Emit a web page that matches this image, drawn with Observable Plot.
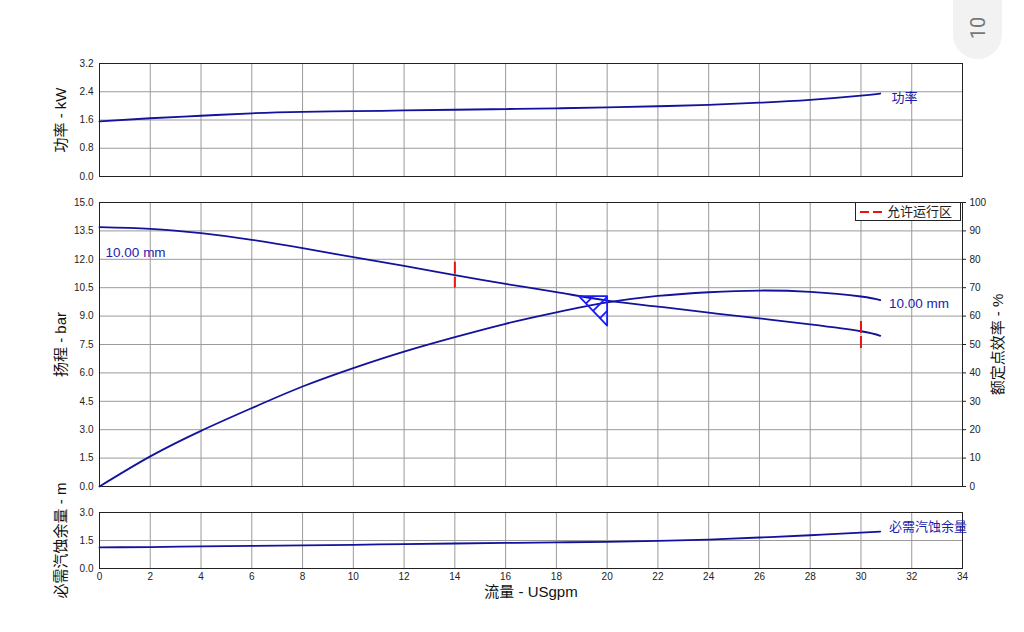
<!DOCTYPE html>
<html>
<head>
<meta charset="utf-8">
<script src="https://cdn.jsdelivr.net/npm/d3@7"></script>
<script src="https://cdn.jsdelivr.net/npm/@observablehq/plot@0.6"></script>
<style>
  html, body { margin: 0; padding: 0; background: #fff; }
  #wrap { position: relative; width: 1024px; height: 632px; overflow: hidden; background: #fff; }
  #wrap svg { position: absolute; left: 0; }
  #tab { position: absolute; left: 953px; top: -30px; width: 49px; height: 89px; border-radius: 0 0 25px 25px; background: #f2f2f2; }
  #tab span { position: absolute; left: 50%; top: 58px; transform: translate(-50%, -50%) rotate(-90deg); font-family: Roboto, 'Liberation Sans', sans-serif; font-size: 20px; color: #777; }
  #legend { position: absolute; left: 855px; top: 202px; width: 106px; height: 19px; border: 1px solid #222; background: #fff; box-sizing: border-box; }
  #legend svg { position: absolute; left: 3px; top: 0; }
  #legend span { position: absolute; left: 31px; top: 0px; line-height: 17px; font-family: 'Liberation Sans', 'Noto Sans CJK SC', sans-serif; font-size: 13px; color: #222; }
</style>
</head>
<body>
<div id="wrap"></div>
<script>
// ---- data ----
const flow  = [0, 2, 4, 6, 8, 10, 12, 14, 16, 18, 20, 22, 24, 26, 28, 30, 30.76];
const head  = [13.70, 13.61, 13.38, 13.03, 12.59, 12.11, 11.65, 11.16, 10.70, 10.27, 9.82, 9.50, 9.18, 8.88, 8.56, 8.20, 7.96];
const eff   = [0, 10.6, 19.6, 27.6, 35.2, 41.7, 47.5, 52.6, 57.3, 61.3, 64.8, 67.1, 68.4, 69.0, 68.5, 66.9, 65.6];
const power = [1.56, 1.65, 1.72, 1.79, 1.83, 1.85, 1.87, 1.89, 1.91, 1.93, 1.96, 1.99, 2.03, 2.09, 2.17, 2.29, 2.35];
const npsh  = [1.13, 1.15, 1.18, 1.21, 1.24, 1.27, 1.31, 1.34, 1.37, 1.40, 1.43, 1.48, 1.55, 1.66, 1.78, 1.92, 1.98];

const xTicks     = [0, 2, 4, 6, 8, 10, 12, 14, 16, 18, 20, 22, 24, 26, 28, 30, 32, 34];
const powerTicks = [0, 0.8, 1.6, 2.4, 3.2];
const headTicks  = [0, 1.5, 3, 4.5, 6, 7.5, 9, 10.5, 12, 13.5, 15];
const effTicks   = [0, 10, 20, 30, 40, 50, 60, 70, 80, 90, 100];
const npshTicks  = [0, 1.5, 3];

// allowed operating region markers (flow, head top, head bottom)
const opFlow   = [14, 30];
const opTop    = [11.85, 8.72];
const opBottom = [10.48, 7.26];

// best efficiency point marker (triangle + hatch) in flow / head units
const triX = [18.89, 20.0, 20.0, 18.89];
const triY = [10.06, 10.06, 8.50, 10.06];
const hatchX1 = [19.17, 19.445, 19.72];
const hatchY1 = [9.67, 9.28, 8.89];
const hatchX2 = [19.46, 20.0, 20.0];
const hatchY2 = [10.06, 10.02, 9.27];

// text labels
const trimLabel = "10.00 mm";
const powerLabel = "功率";
const npshLabel = "必需汽蚀余量";
const titles = {power: "功率 - kW", head: "扬程 - bar", eff: "额定点效率 - %", npsh: "必需汽蚀余量 - m", flow: "流量 - USgpm"};

// ---- build ----
const curve = flow.map((x, i) => ({x, head: head[i], eff: eff[i] * 15 / 100, power: power[i], npsh: npsh[i]}));
const ops = opFlow.map((x, i) => ({x, y1: opTop[i], y2: opBottom[i]}));
const tri = triX.map((x, i) => ({x, y: triY[i]}));
const hatch = hatchX1.map((x, i) => ({x1: x, y1: hatchY1[i], x2: hatchX2[i], y2: hatchY2[i]}));

const lineColor = "#12129c";
const labelColor = "#1c1cae";
const gridColor = "#9a9a9a";
const frameColor = "#222";
const font = "'Liberation Sans', Arial, 'Noto Sans CJK SC', sans-serif";
const style = {fontFamily: font, fontSize: "10px", color: "#222", background: "transparent", overflow: "visible"};
const W = 1024, ML = 99, MR = 62;
const xScale = {domain: [0, 34]};
const tickFont = 10;

const grids = (yt) => [
  Plot.gridX(xTicks, {stroke: gridColor, strokeOpacity: 1, strokeWidth: 1}),
  Plot.gridY(yt, {stroke: gridColor, strokeOpacity: 1, strokeWidth: 1})
];
const yTitle = (t, anchor, dx) => Plot.text([t], {text: d => d, frameAnchor: anchor, dx, rotate: -90, textAnchor: "middle", lineAnchor: "middle", fontSize: 15, fill: "#111"});

const wrap = document.getElementById("wrap");
function place(svg, top) { svg.style.top = top + "px"; wrap.appendChild(svg); }

// Power panel
place(Plot.plot({
  width: W, height: 190, marginLeft: ML, marginRight: MR, marginTop: 63, marginBottom: 14,
  style, x: {...xScale, axis: null}, y: {domain: [0, 3.2], axis: null},
  marks: [
    ...grids(powerTicks),
    Plot.axisY(powerTicks, {tickSize: 0, tickPadding: 6, fontSize: tickFont, tickFormat: d => d.toFixed(1), label: null}),
    Plot.frame({stroke: frameColor}),
    Plot.line(curve, {x: "x", y: "power", stroke: lineColor, strokeWidth: 1.8, curve: "natural"}),
    Plot.text([powerLabel], {x: 31.2, y: 2.24, text: d => d, textAnchor: "start", fill: labelColor, fontSize: 13}),
    yTitle(titles.power, "left", -38)
  ]
}), 0);

// Head / efficiency panel
place(Plot.plot({
  width: W, height: 310, marginLeft: ML, marginRight: MR, marginTop: 12, marginBottom: 14,
  style, x: {...xScale, axis: null}, y: {domain: [0, 15], axis: null},
  marks: [
    ...grids(headTicks),
    Plot.axisY(headTicks, {anchor: "left", tickSize: 0, tickPadding: 6, fontSize: tickFont, tickFormat: d => d.toFixed(1), label: null}),
    Plot.axisY(headTicks, {anchor: "right", tickSize: 3, tickPadding: 4, fontSize: tickFont, tickFormat: (d, i) => effTicks[i], label: null}),
    Plot.frame({stroke: frameColor}),
    Plot.line(curve, {x: "x", y: "head", stroke: lineColor, strokeWidth: 1.8, curve: "natural"}),
    Plot.line(curve, {x: "x", y: "eff", stroke: lineColor, strokeWidth: 1.8, curve: "natural"}),
    Plot.ruleX(ops, {x: "x", y1: "y1", y2: "y2", stroke: "#ee1111", strokeWidth: 2, strokeDasharray: "12,3.2"}),
    Plot.line(tri, {x: "x", y: "y", stroke: "#1a1aff", strokeWidth: 1.8}),
    Plot.link(hatch, {x1: "x1", y1: "y1", x2: "x2", y2: "y2", stroke: "#1a1aff", strokeWidth: 1.8}),
    Plot.text([trimLabel], {x: 0.24, y: 12.36, text: d => d, textAnchor: "start", fill: labelColor, fontSize: 13.5}),
    Plot.text([trimLabel], {x: 31.1, y: 9.67, text: d => d, textAnchor: "start", fill: labelColor, fontSize: 13.5}),
    yTitle(titles.head, "left", -38),
    yTitle(titles.eff, "right", 36)
  ]
}), 190);

// NPSH panel
place(Plot.plot({
  width: W, height: 132, marginLeft: ML, marginRight: MR, marginTop: 12, marginBottom: 64,
  style, x: {...xScale, axis: null}, y: {domain: [0, 3], axis: null},
  marks: [
    ...grids(npshTicks),
    Plot.axisY(npshTicks, {tickSize: 0, tickPadding: 6, fontSize: tickFont, tickFormat: d => d.toFixed(1), label: null}),
    Plot.axisX(xTicks, {tickSize: 0, tickPadding: 4, fontSize: tickFont, label: null}),
    Plot.frame({stroke: frameColor}),
    Plot.line(curve, {x: "x", y: "npsh", stroke: lineColor, strokeWidth: 1.8, curve: "natural"}),
    Plot.text([npshLabel], {x: 31.1, y: 2.25, text: d => d, textAnchor: "start", fill: labelColor, fontSize: 13}),
    yTitle(titles.npsh, "left", -38),
    Plot.text([titles.flow], {text: d => d, frameAnchor: "bottom", dy: 28, textAnchor: "middle", fontSize: 15, fill: "#111"})
  ]
}), 500);

// legend
const legend = document.createElement("div");
legend.id = "legend";
legend.innerHTML = '<svg width="26" height="17"><line x1="1" y1="9" x2="25" y2="9" stroke="#ee1111" stroke-width="2" stroke-dasharray="9,4"/></svg><span>允许运行区</span>';
wrap.appendChild(legend);

// page tab
const tab = document.createElement("div");
tab.id = "tab";
tab.innerHTML = "<span>10</span>";
wrap.appendChild(tab);
</script>
</body>
</html>
